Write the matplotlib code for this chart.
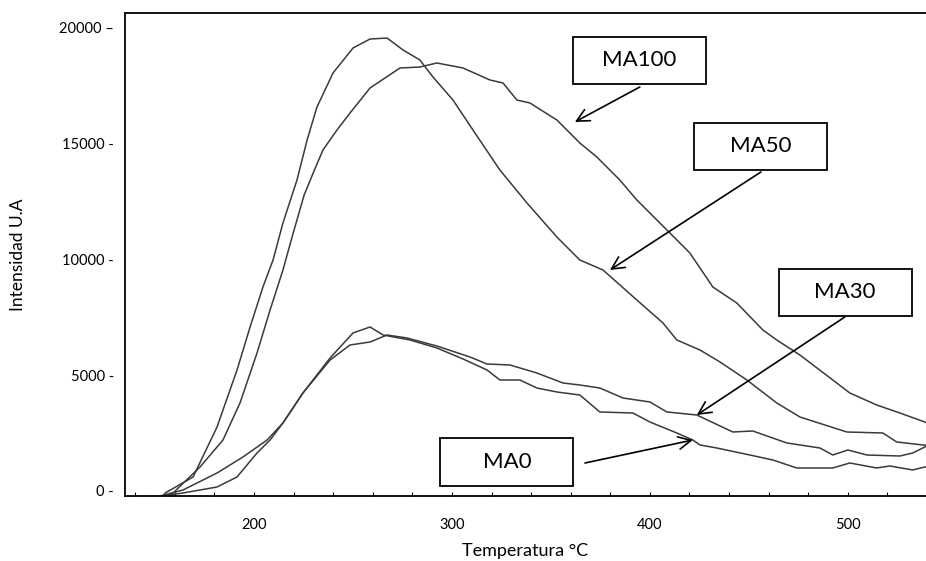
import matplotlib
matplotlib.use("Agg")
import matplotlib.pyplot as plt
from matplotlib.patches import Rectangle
from matplotlib.ticker import MultipleLocator

plt.rcParams['font.family'] = ['Lato', 'DejaVu Sans']

# curvas (temperatura, intensidad)
ma50_t = [154.0, 155.1, 169.2, 181.3, 191.4, 198.0, 204.5, 209.6, 214.6, 221.7, 226.8, 231.8,
          239.9, 250.0, 258.6, 267.2, 275.3, 283.8, 290.4, 300.5, 310.6, 324.2, 337.9, 353.0,
          364.6, 376.3, 393.4, 406.6, 413.6, 425.3, 435.4, 449.0, 464.1, 475.8, 499.5, 517.7,
          524.7, 537.9, 539.5]
ma50_i = [-216, -86, 604, 2760, 5218, 7072, 8797, 9961, 11557, 13411, 15135, 16559,
          18025, 19102, 19490, 19533, 19016, 18585, 17852, 16860, 15567, 13842, 12419, 10953,
          9961, 9530, 8236, 7245, 6511, 6080, 5563, 4787, 3795, 3191, 2544, 2501,
          2113, 1984, 1980]

ma100_t = [156.6, 159.1, 172.7, 184.3, 192.9, 201.5, 208.1, 214.6, 219.7, 225.3, 230.3, 234.8,
           241.9, 248.5, 258.6, 273.7, 283.8, 292.4, 305.6, 319.2, 325.8, 332.8, 339.4, 353.0,
           364.6, 373.2, 384.8, 393.4, 410.1, 420.2, 431.8, 443.9, 457.1, 464.1, 475.8, 492.4,
           501.0, 514.6, 526.3, 538.9, 539.5]
ma100_i = [-216, -86, 1035, 2199, 3795, 5951, 7805, 9530, 11100, 12760, 13800, 14704,
           15567, 16300, 17378, 18240, 18283, 18456, 18240, 17723, 17593, 16860, 16731, 15998,
           15006, 14402, 13411, 12548, 11125, 10263, 8797, 8107, 6942, 6511, 5864, 4787,
           4226, 3708, 3363, 2975, 2950]

ma30_t = [152.5, 164.1, 181.3, 194.4, 206.6, 214.6, 224.7, 238.4, 248.5, 258.6, 267.2, 277.3,
          292.4, 309.1, 317.7, 329.3, 342.9, 356.1, 364.6, 374.7, 386.4, 400.0, 408.6, 423.7,
          441.9, 452.0, 469.2, 485.9, 492.4, 500.0, 509.6, 526.3, 532.8, 538.9, 539.5]
ma30_i = [-216, 43, 776, 1466, 2199, 2932, 4226, 5649, 6296, 6425, 6727, 6597,
          6252, 5778, 5476, 5433, 5088, 4657, 4571, 4441, 4010, 3838, 3407, 3277,
          2544, 2587, 2070, 1854, 1552, 1768, 1552, 1509, 1639, 1897, 1930]

ma0_t = [153.5, 164.1, 181.3, 191.4, 201.5, 208.1, 214.6, 224.7, 238.4, 250.0, 258.6, 265.2,
         278.8, 292.4, 305.6, 317.7, 324.2, 334.3, 342.9, 353.0, 364.6, 374.7, 391.4, 400.0,
         413.6, 421.7, 425.3, 433.8, 450.5, 462.1, 474.2, 492.4, 501.0, 514.6, 521.2, 532.8,
         538.9, 539.5]
ma0_i = [-216, -86, 172, 604, 1639, 2199, 2932, 4226, 5735, 6813, 7072, 6727,
         6511, 6166, 5692, 5218, 4787, 4787, 4441, 4269, 4140, 3407, 3363, 2975,
         2501, 2199, 1984, 1854, 1552, 1337, 992, 992, 1207, 992, 1078, 906,
         1035, 1035]

etiquetas = ["MA100", "MA50", "MA30", "MA0"]
# centro de cada cuadro, punta y origen de cada flecha
centros = [(394.7, 18564), (455.8, 14856), (498.7, 8560), (327.8, 1250)]
puntas = [(362.1, 15912), (379.8, 9530), (423.7, 3277), (421.7, 2199)]
origenes = [(394.9, 17421), (456.1, 13756), (498.5, 7503), (367.2, 1207)]

yticks = [0, 5000, 10000, 15000, 20000]
ylabels = ["0 -", "5000 -", "10000 -", "15000 -", "20000 \u2013"]

fig = plt.figure(figsize=(9.26, 5.61), dpi=100)
ax = fig.add_axes([125 / 926, 1 - 496 / 561, 1 - 125 / 926, (496 - 13) / 561])

color = "#3a3a3a"
for t, i in [(ma50_t, ma50_i), (ma100_t, ma100_i), (ma30_t, ma30_i), (ma0_t, ma0_i)]:
    ax.plot(t, i, color=color, lw=1.1)

ax.set_xlim(134.8, 539.5)
ax.set_ylim(-216, 20612)

ax.xaxis.set_major_locator(MultipleLocator(100))
ax.xaxis.set_minor_locator(MultipleLocator(20))
ax.tick_params(axis="x", which="both", direction="in", length=3, width=0.8,
               labelsize=10.5, pad=16)
ax.set_yticks(yticks)
ax.set_yticklabels(ylabels)
ax.tick_params(axis="y", length=0, labelsize=10.5, pad=8)

for s in ["left", "bottom", "top"]:
    ax.spines[s].set_linewidth(1.3)
ax.spines["right"].set_visible(False)

ax.set_xlabel("Temperatura °C", fontsize=13, labelpad=8)
ax.set_ylabel("Intensidad U.A", fontsize=12.5, labelpad=24)

ancho = 67.2
alto = 2050
for lab, c, p, o in zip(etiquetas, centros, puntas, origenes):
    ax.add_patch(Rectangle((c[0] - ancho / 2, c[1] - alto / 2), ancho, alto,
                           fill=False, edgecolor="black", lw=1.3))
    ax.text(c[0], c[1], lab, ha="center", va="center", fontsize=16)
    ax.annotate("", xy=p, xytext=o,
                arrowprops=dict(arrowstyle="->,head_length=0.9,head_width=0.45",
                                color="black", lw=1.2, shrinkA=0, shrinkB=0))

fig.savefig("out.png", dpi=100)
